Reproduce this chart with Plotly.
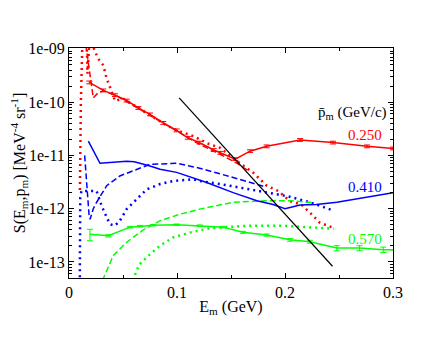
import math
import plotly.graph_objects as go

# ---- data ----
red_solid_x = [0.0188, 0.0318, 0.0426, 0.0534, 0.0642, 0.075, 0.0873, 0.0997, 0.110, 0.121, 0.134, 0.140,
               0.154, 0.1676, 0.183, 0.214, 0.2444, 0.276, 0.300]
red_solid_y = [2.34e-10, 1.66e-10, 1.35e-10, 1.07e-10, 7.76e-11, 5.89e-11, 4.07e-11, 2.95e-11, 2.14e-11,
               1.74e-11, 1.26e-11, 1.12e-11, 8.5e-12, 1.2e-11, 1.48e-11, 1.95e-11, 1.74e-11, 1.48e-11, 1.35e-11]

red_dash_x = [0.0155, 0.019, 0.0225, 0.027, 0.032, 0.045, 0.06, 0.08, 0.1, 0.12, 0.14, 0.155, 0.167]
red_dash_y = [1.2e-9, 3.5e-10, 1.2e-10, 1.5e-10, 1.62e-10, 1.28e-10, 8.5e-11, 4.8e-11, 2.8e-11, 1.65e-11,
              1.05e-11, 7.2e-12, 5.0e-12]

red_dot_x = [0.0101, 0.0110, 0.0125, 0.0163, 0.0171, 0.0185, 0.021, 0.027, 0.0318, 0.0349, 0.038, 0.0426,
             0.05, 0.06, 0.075, 0.09, 0.1, 0.115, 0.129, 0.14, 0.149, 0.1707, 0.183, 0.194, 0.2046, 0.215,
             0.226, 0.232, 0.243]
red_dot_y = [2.24e-12, 1.0e-10, 1.6e-9, 1.6e-9, 3.4e-10, 1.0e-9, 1.26e-9, 6.5e-10, 4.9e-10, 2.75e-10,
             1.9e-10, 1.05e-10, 1.17e-10, 8.7e-11, 5.6e-11, 3.7e-11, 2.95e-11, 2.3e-11, 1.66e-11, 1.38e-11,
             9.8e-12, 4.7e-12, 2.7e-12, 2.14e-12, 1.38e-12, 1.2e-12, 7.4e-13, 5.5e-13, 4.5e-13]

blue_solid_x = [0.0179, 0.0287, 0.0534, 0.0605, 0.075, 0.0843, 0.0997, 0.1275, 0.152, 0.174, 0.189, 0.200,
                0.214, 0.229, 0.248, 0.272, 0.300]
blue_solid_y = [1.85e-11, 7.1e-12, 7.8e-12, 7.6e-12, 6.3e-12, 5.5e-12, 4.8e-12, 3.1e-12, 2.0e-12, 1.41e-12,
                1.2e-12, 1.0e-12, 1.17e-12, 1.2e-12, 1.32e-12, 1.62e-12, 2.0e-12]

blue_dash_x = [0.0145, 0.016, 0.0185, 0.0195, 0.0225, 0.0256, 0.0349, 0.047, 0.0627, 0.075, 0.1, 0.121,
               0.149, 0.177, 0.181]
blue_dash_y = [1.0e-11, 3.2e-12, 7.9e-13, 6.3e-13, 1.0e-12, 1.32e-12, 2.7e-12, 4.1e-12, 5.5e-12, 6.8e-12,
               7.1e-12, 5.75e-12, 4.0e-12, 2.75e-12, 2.6e-12]

blue_dot_x = [0.0100, 0.0101, 0.0104, 0.0115, 0.0255, 0.0271, 0.0303, 0.0349, 0.038, 0.0426, 0.047, 0.0534,
              0.0627, 0.0719, 0.0843, 0.0963, 0.1148, 0.121, 0.14, 0.158, 0.177, 0.195, 0.203, 0.223, 0.243]
blue_dot_y = [4.0e-14, 3.2e-13, 1.6e-12, 2.15e-12, 2.15e-12, 1.74e-12, 1.12e-12, 6.9e-13, 5.1e-13, 4.8e-13,
              5.9e-13, 9.8e-13, 1.51e-12, 2.3e-12, 2.9e-12, 3.3e-12, 3.55e-12, 3.3e-12, 2.9e-12, 2.5e-12,
              2.14e-12, 1.86e-12, 1.7e-12, 1.32e-12, 9.5e-13]

green_solid_x = [0.0194, 0.0364, 0.0565, 0.0657, 0.078, 0.0997, 0.121, 0.143, 0.161, 0.183, 0.2046, 0.223,
                 0.248, 0.269, 0.291, 0.300]
green_solid_y = [3.3e-13, 3.1e-13, 4.5e-13, 4.7e-13, 4.9e-13, 5.0e-13, 4.8e-13, 4.5e-13, 3.6e-13, 3.2e-13,
                 2.6e-13, 2.4e-13, 1.82e-13, 1.82e-13, 1.7e-13, 1.7e-13]
green_solid_err = [0.8e-13, 0.15e-13, 0.15e-13, 0.15e-13, 0.15e-13, 0.15e-13, 0.15e-13, 0.15e-13, 0.15e-13,
                   0.15e-13, 0.15e-13, 0.15e-13, 0.2e-13, 0.2e-13, 0.2e-13, 0]

green_dash_x = [0.031, 0.041, 0.0534, 0.068, 0.084, 0.103, 0.121, 0.14, 0.152, 0.183, 0.205, 0.226]
green_dash_y = [4.5e-14, 1.32e-13, 2.34e-13, 3.9e-13, 5.9e-13, 7.9e-13, 9.8e-13, 1.2e-12, 1.32e-12, 1.41e-12,
                1.41e-12, 1.3e-12]

green_dot_x = [0.059, 0.065, 0.072, 0.084, 0.0966, 0.112, 0.1306, 0.1676, 0.198, 0.223, 0.245]
green_dot_y = [4.5e-14, 8.9e-14, 1.23e-13, 2.0e-13, 2.9e-13, 3.55e-13, 4.3e-13, 4.8e-13, 4.8e-13, 4.5e-13,
               4.2e-13]

black_x = [0.102, 0.244]
black_y = [1.2e-10, 8.3e-14]

pm_labels = ["0.250", "0.410", "0.570"]
pm_label_y = [2.45e-11, 2.57e-12, 2.7e-13]

ytick_vals = [1e-13, 1e-12, 1e-11, 1e-10, 1e-9]
ytick_text = ["1e-13", "1e-12", "1e-11", "1e-10", "1e-09"]
xtick_vals = [0, 0.1, 0.2, 0.3]
xtick_text = ["0", "0.1", "0.2", "0.3"]

RED, BLUE, GREEN = "#ff0000", "#0000ff", "#00ff00"
DOT = "2px,4px"
DASH = "6px,3px"
FONT = "'Liberation Serif', 'Times New Roman', serif"

fig = go.Figure()

def add(x, y, color, dash="solid", width=1.5, err=None, errpct=None):
    tr = dict(x=x, y=y, mode="lines", line=dict(color=color, width=width, dash=dash),
              showlegend=False, hoverinfo="skip")
    if err is not None:
        tr["error_y"] = dict(type="data", array=err, visible=True, color=color, thickness=1, width=3)
    if errpct is not None:
        tr["error_y"] = dict(type="percent", value=errpct, visible=True, color=color, thickness=1, width=3)
    fig.add_trace(go.Scatter(**tr))

add(red_dot_x, red_dot_y, RED, DOT, 2.5)
add(blue_dot_x, blue_dot_y, BLUE, DOT, 2.5)
add(green_dot_x, green_dot_y, GREEN, DOT, 2.5)
add(red_dash_x, red_dash_y, RED, DASH)
add(blue_dash_x, blue_dash_y, BLUE, DASH)
add(green_dash_x, green_dash_y, GREEN, DASH)
add(red_solid_x, red_solid_y, RED, errpct=6)
add(blue_solid_x, blue_solid_y, BLUE)
add(green_solid_x, green_solid_y, GREEN, err=green_solid_err)
add(black_x, black_y, "black", width=1.2)

colors = [RED, BLUE, GREEN]
for lab, yv, c in zip(pm_labels, pm_label_y, colors):
    fig.add_annotation(x=0.2917, y=math.log10(yv), xref="x", yref="y", text=lab,
                       showarrow=False, xanchor="right", yanchor="middle",
                       font=dict(family=FONT, size=15, color=c))
fig.add_annotation(x=0.2965, y=-10.21, xref="x", yref="y", text="p\u0304<sub>m</sub> (GeV/c)",
                   showarrow=False, xanchor="right", yanchor="middle",
                   font=dict(family=FONT, size=15, color="black"))

# page body has an 8px default margin, so the figure margins compensate for it
fig.update_layout(
    width=436, height=337,
    margin=dict(l=61, r=51, t=40, b=67),
    paper_bgcolor="white", plot_bgcolor="white",
    font=dict(family=FONT, size=15, color="black"),
    xaxis=dict(range=[0, 0.3], showgrid=False, zeroline=False, showline=True, mirror="ticks",
               linecolor="black", linewidth=1, ticks="inside", ticklen=5, tickcolor="black",
               tickmode="array", tickvals=xtick_vals, ticktext=xtick_text, automargin=False,
               tickfont=dict(family=FONT, size=16),
               minor=dict(ticks="inside", ticklen=3, tickcolor="black", dtick=0.05, showgrid=False),
               title=dict(text="E<sub>m</sub> (GeV)", font=dict(family=FONT, size=16), standoff=0)),
    yaxis=dict(type="log", range=[-13.301, -8.985], showgrid=False, zeroline=False, showline=True,
               mirror="ticks", linecolor="black", linewidth=1, ticks="inside", ticklen=5,
               tickcolor="black", tickmode="array", tickvals=ytick_vals, ticktext=ytick_text,
               automargin=False, tickfont=dict(family=FONT, size=16),
               minor=dict(ticks="inside", ticklen=3, tickcolor="black", dtick="D1", showgrid=False),
               title=dict(text="S(E<sub>m</sub>,p<sub>m</sub>) [MeV<sup>-4</sup> sr<sup>-1</sup>]",
                          font=dict(family=FONT, size=16), standoff=0)),
)

fig.write_html("out.html")
